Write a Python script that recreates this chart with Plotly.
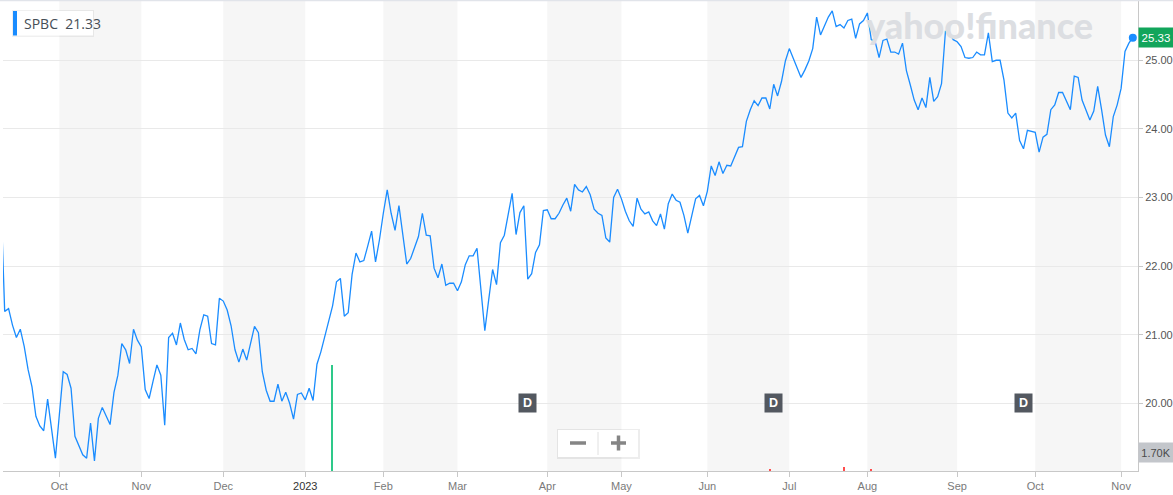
import numpy as np
import pandas as pd
import plotly.graph_objects as go

# ---------------- data ----------------
ticker = "SPBC"
legend_value = "21.33"
start_date = "2022-09-12"
end_date = "2023-11-06"
market_holidays = ["2022-11-24", "2022-12-26", "2023-01-02", "2023-01-16", "2023-02-20",
                   "2023-04-07", "2023-05-29", "2023-06-19", "2023-07-04", "2023-09-04"]

close = [
    23.04, 21.34, 21.38, 21.14, 20.96, 21.08, 20.83, 20.49, 20.24, 19.81,
    19.67, 19.60, 20.06, 19.61, 19.20,
    # Oct 2022
    19.83, 20.46, 20.42, 20.22, 19.52, 19.38, 19.25, 19.20, 19.71, 19.16,
    19.78, 19.94, 19.82, 19.69, 20.16, 20.41, 20.87, 20.78, 20.58, 21.08, 20.92,
    # Nov 2022
    20.82, 20.20, 20.07, 20.32, 20.56, 20.41, 19.68, 20.96, 21.02, 20.85,
    21.17, 20.93, 20.78, 20.80, 20.72, 21.07, 21.29, 21.27, 20.87, 20.85, 21.53,
    # Dec 2022
    21.49, 21.36, 21.13, 20.78, 20.60, 20.79, 20.63, 20.87, 21.12, 21.03,
    20.46, 20.19, 20.03, 20.03, 20.28, 20.03, 20.16, 20.00, 19.77, 20.13, 20.15,
    # Jan 2023
    20.05, 20.22, 20.04, 20.57, 20.75, 20.96, 21.19, 21.42, 21.77, 21.82,
    21.27, 21.32, 21.88, 22.19, 22.06, 22.08, 22.29, 22.51, 22.06, 22.38,
    # Feb 2023
    22.77, 23.11, 22.77, 22.52, 22.88, 22.47, 22.03, 22.11, 22.28, 22.43,
    22.77, 22.45, 22.44, 21.97, 21.83, 22.03, 21.72, 21.75, 21.75,
    # Mar 2023
    21.64, 21.77, 22.02, 22.15, 22.15, 22.26, 21.65, 21.06, 21.51, 21.95,
    21.73, 22.34, 22.45, 22.77, 23.06, 22.46, 22.78, 22.88, 21.81, 21.89,
    22.20, 22.31, 22.81,
    # Apr 2023
    22.82, 22.69, 22.69, 22.77, 22.89, 22.99, 22.80, 23.19, 23.11, 23.08,
    23.16, 23.04, 22.83, 22.77, 22.74, 22.41, 22.35, 23.00, 23.12,
    # May 2023
    22.98, 22.80, 22.66, 22.58, 22.99, 22.83, 22.76, 22.79, 22.66, 22.59,
    22.76, 22.54, 22.91, 23.05, 22.96, 22.93, 22.74, 22.48, 22.72, 22.98,
    23.03, 22.88,
    # Jun 2023
    23.09, 23.46, 23.32, 23.52, 23.35, 23.47, 23.46, 23.60, 23.73, 23.74,
    24.11, 24.28, 24.41, 24.34, 24.45, 24.45, 24.29, 24.65, 24.48, 24.69, 24.99,
    # Jul 2023
    25.17, 25.03, 24.88, 24.75, 24.86, 24.99, 25.17, 25.63, 25.37, 25.50,
    25.63, 25.72, 25.49, 25.52, 25.47, 25.58, 25.60, 25.32, 25.53, 25.58,
    # Aug 2023
    25.69, 25.30, 25.27, 25.04, 25.29, 25.31, 25.12, 25.12, 25.09, 25.25,
    24.85, 24.64, 24.42, 24.28, 24.45, 24.31, 24.75, 24.40, 24.47, 24.66,
    25.42, 25.41, 25.30,
    # Sep 2023
    25.27, 25.20, 25.04, 25.03, 25.04, 25.12, 25.08, 25.08, 25.40, 24.98,
    25.00, 25.00, 24.71, 24.23, 24.16, 24.23, 23.83, 23.71, 23.98, 23.97,
    # Oct 2023
    23.95, 23.66, 23.88, 23.92, 24.28, 24.35, 24.53, 24.53, 24.40, 24.28,
    24.77, 24.75, 24.42, 24.28, 24.13, 24.26, 24.62, 24.28, 23.91, 23.74,
    24.18, 24.35,
    # Nov 2023
    24.59, 25.13, 25.25, 25.33,
]

volume_dates = ["2023-01-12", "2023-06-26", "2023-07-24", "2023-08-02"]
volume_values = [9500, 180, 350, 170]
volume_up = [True, False, False, False]
volume_label = "1.70K"

dividend_dates = ["2023-03-27", "2023-06-27", "2023-09-27"]
price_ticks = [20, 21, 22, 23, 24, 25]
watermark = "yahoo!finance"

# ---------------- styling ----------------
W, H = 1173, 495
ML, MR, MT, MB = 3, 35, 1, 24
PW, PH = W - ML - MR, H - MT - MB
LINE = "#1a8cff"
BAND = "#f6f6f6"
GRID = "#e9e9e9"
AXIS = "#c8c8c8"
FONT = "Liberation Sans, Arial, sans-serif"


def px(x):
    return (x - ML) / PW


def py(y):
    return 1 - (y - MT) / PH


dates = pd.bdate_range(start_date, end_date, freq="C", holidays=market_holidays)
n = min(len(dates), len(close))
dates = dates[:n]
xs = np.arange(n)
ys = np.array(close[:n])


def idx(d):
    return int(dates.get_loc(pd.Timestamp(d)))


# month ticks
tick_k, tick_t = [], []
for k in range(1, n):
    if dates[k].month != dates[k - 1].month:
        tick_k.append(k)
        if dates[k].month == 1:
            tick_t.append('<span style="color:#333333">%d</span>' % dates[k].year)
        else:
            tick_t.append(dates[k].strftime("%b"))

x_range = [0.57, n + 0.33]
y_range = [19.013, 25.864]

fig = go.Figure()

vx = [idx(d) for d in volume_dates]
fig.add_trace(go.Bar(x=vx, y=volume_values, width=0.3,
                     marker=dict(color=["#2ec98a" if u else "#ff4d4d" for u in volume_up], line=dict(width=0)),
                     yaxis="y2", hoverinfo="skip"))
fig.add_trace(go.Scatter(x=xs, y=ys, mode="lines", line=dict(color=LINE, width=1.3),
                         hoverinfo="skip"))
fig.add_trace(go.Scatter(x=[xs[-1]], y=[ys[-1]], mode="markers",
                         marker=dict(color=LINE, size=8), hoverinfo="skip"))

shapes = []
# alternating month bands
for j in range(0, len(tick_k) - 1):
    if j % 2 == 0:
        shapes.append(dict(type="rect", xref="x", yref="paper", x0=tick_k[j], x1=tick_k[j + 1],
                           y0=0, y1=1, fillcolor=BAND, line=dict(width=0), layer="below"))
# top border
shapes.append(dict(type="line", xref="paper", yref="paper", x0=px(0), x1=px(W), y0=py(0.5), y1=py(0.5),
                   line=dict(color="#e1e4ea", width=1.5)))
# legend box
shapes.append(dict(type="rect", xref="paper", yref="paper", x0=px(12), x1=px(94), y0=py(10), y1=py(37),
                   fillcolor="rgba(0,0,0,0.06)", line=dict(width=0)))
shapes.append(dict(type="rect", xref="paper", yref="paper", x0=px(13), x1=px(93), y0=py(11), y1=py(35.5),
                   fillcolor="white", line=dict(width=0)))
shapes.append(dict(type="rect", xref="paper", yref="paper", x0=px(13), x1=px(17), y0=py(11), y1=py(35.5),
                   fillcolor=LINE, line=dict(width=0)))
# zoom control
shapes.append(dict(type="rect", xref="paper", yref="paper", x0=px(557), x1=px(640), y0=py(429), y1=py(459),
                   fillcolor="rgba(0,0,0,0.07)", line=dict(width=0)))
shapes.append(dict(type="rect", xref="paper", yref="paper", x0=px(558), x1=px(638), y0=py(430), y1=py(457),
                   fillcolor="white", line=dict(width=0)))
shapes.append(dict(type="line", xref="paper", yref="paper", x0=px(598), x1=px(598), y0=py(432), y1=py(455),
                   line=dict(color="#e0e0e0", width=1)))
ZC = "#858585"
shapes.append(dict(type="line", xref="paper", yref="paper", x0=px(570), x1=px(586), y0=py(443), y1=py(443),
                   line=dict(color=ZC, width=3.5)))
shapes.append(dict(type="line", xref="paper", yref="paper", x0=px(611), x1=px(626), y0=py(443), y1=py(443),
                   line=dict(color=ZC, width=3.5)))
shapes.append(dict(type="line", xref="paper", yref="paper", x0=px(618.5), x1=px(618.5), y0=py(435.5), y1=py(450.5),
                   line=dict(color=ZC, width=3.5)))

annotations = []
annotations.append(dict(xref="paper", yref="paper", x=px(21.5), y=py(23.5), xanchor="left", yanchor="middle",
                        text="%s\u00a0\u00a0%s" % (ticker, legend_value), showarrow=False,
                        font=dict(family="Open Sans, sans-serif", size=14, color="#464e56")))
annotations.append(dict(xref="paper", yref="paper", x=px(979), y=py(25), xanchor="center", yanchor="middle",
                        text=watermark, showarrow=False,
                        font=dict(family="Lato, sans-serif", size=36, color="#dcdee2", weight=900)))
for d in dividend_dates:
    annotations.append(dict(xref="x", yref="y", x=idx(d), y=20.0, text="<b>D</b>", showarrow=False,
                            xanchor="center", yanchor="middle",
                            bgcolor="#535860", width=17, height=18, borderpad=0,
                            font=dict(family=FONT, size=12.5, color="white")))
annotations.append(dict(xref="paper", yref="y", x=1, y=ys[-1], xanchor="left", yanchor="middle",
                        text="%.2f" % ys[-1], showarrow=False, bgcolor="#12a55b", width=34, height=19,
                        borderpad=0, font=dict(family=FONT, size=11.5, color="white")))
annotations.append(dict(xref="paper", yref="paper", x=1, y=py(452.5), xanchor="left", yanchor="middle",
                        text=volume_label, showarrow=False, bgcolor="#c3c6cb", width=34, height=19,
                        borderpad=0, font=dict(family=FONT, size=11, color="#4a4a4a")))

fig.update_layout(
    width=W, height=H, margin=dict(l=ML, r=MR, t=MT, b=MB),
    paper_bgcolor="white", plot_bgcolor="white", showlegend=False,
    shapes=shapes, annotations=annotations,
    xaxis=dict(range=x_range, tickvals=tick_k, ticktext=tick_t, ticks="outside", ticklen=5,
               tickcolor=AXIS, showline=True, linecolor=AXIS, linewidth=1, showgrid=False,
               zeroline=False, tickfont=dict(family=FONT, size=11, color="#7a7a7a"), fixedrange=True),
    yaxis=dict(range=y_range, side="right", tickvals=price_ticks, tickformat=".2f", ticks="outside",
               ticklen=4, tickcolor=AXIS, showline=True, linecolor=AXIS, linewidth=1, showgrid=True,
               gridcolor=GRID, gridwidth=1, zeroline=False,
               tickfont=dict(family=FONT, size=11, color="#555555"), fixedrange=True),
    yaxis2=dict(overlaying="y", range=[0, 42050], visible=False, fixedrange=True),
    bargap=0,
)

fig.write_html("out.html", config={"displayModeBar": False},
               post_script="document.body.style.margin='0';")
